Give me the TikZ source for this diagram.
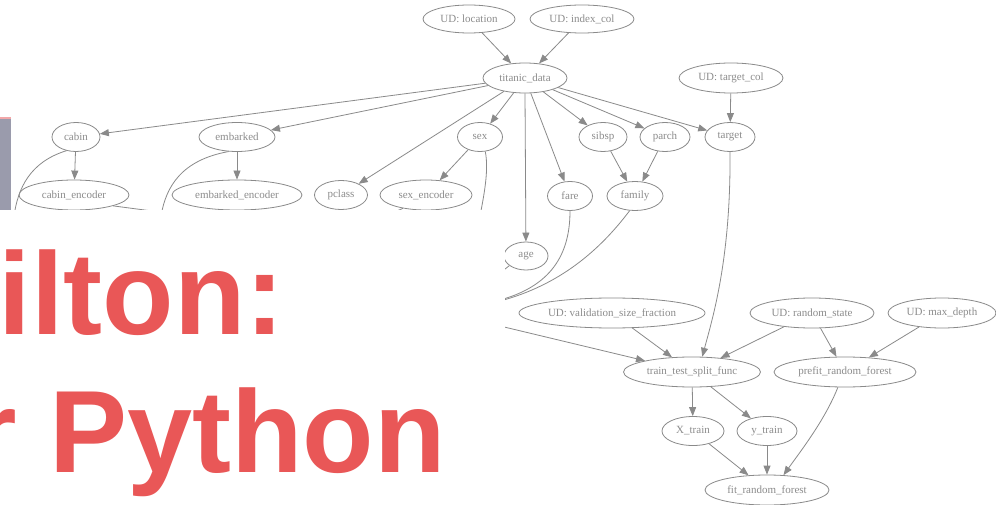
\documentclass[tikz,border=0pt]{standalone}
\usepackage{fontspec}
\setmainfont{Liberation Serif}
\newfontfamily\titlefont{Liberation Sans}
\usetikzlibrary{shapes.geometric,arrows.meta}
\definecolor{dag}{HTML}{8A8A8A}
\definecolor{dagtext}{HTML}{8C8C8C}
\definecolor{titlered}{HTML}{E95757}
\definecolor{slate}{HTML}{9A9BAC}
\definecolor{pinkline}{HTML}{F2A7A9}
\tikzset{
  nd/.style={ellipse, draw=dag, line width=0.8pt, inner sep=0pt, font=\fontsize{11}{13}\selectfont, text=dagtext},
  edge/.style={draw=dag, line width=0.8pt, -{Triangle[length=9pt,width=7pt]}},
  bare/.style={draw=dag, line width=0.8pt},
  title/.style={anchor=base west, inner sep=0pt, text=titlered, font=\titlefont\bfseries\fontsize{117}{117}\selectfont},
}
\begin{document}
\begin{tikzpicture}[x=1pt,y=-1pt]
\useasboundingbox (0,0) rectangle (996,505);
\fill[white] (0,0) rectangle (996,505);
% nodes
\node[nd, minimum width=92pt, minimum height=28pt] (loc) at (469,19) {UD: location};
\node[nd, minimum width=104pt, minimum height=28pt] (idx) at (582,19) {UD: index\_col};
\node[nd, minimum width=84pt, minimum height=30pt] (titanic) at (525,78) {titanic\_data};
\node[nd, minimum width=104pt, minimum height=30pt] (tcol) at (731,78) {UD: target\_col};
\node[nd, minimum width=48pt, minimum height=29pt] (cabin) at (76,137) {cabin};
\node[nd, minimum width=76pt, minimum height=29pt] (embarked) at (237,137) {embarked};
\node[nd, minimum width=45pt, minimum height=29pt] (sex) at (480,137) {sex};
\node[nd, minimum width=48pt, minimum height=29pt] (sibsp) at (603,137) {sibsp};
\node[nd, minimum width=50pt, minimum height=29pt] (parch) at (665,137) {parch};
\node[nd, minimum width=50pt, minimum height=29pt] (target) at (730,137) {target};
\node[nd, minimum width=110pt, minimum height=30pt] (cabinenc) at (74,195) {cabin\_encoder};
\node[nd, minimum width=130pt, minimum height=30pt] (embenc) at (237,195) {embarked\_encoder};
\node[nd, minimum width=53pt, minimum height=29pt] (pclass) at (341,195) {pclass};
\node[nd, minimum width=92pt, minimum height=30pt] (sexenc) at (426,195) {sex\_encoder};
\node[nd, minimum width=45pt, minimum height=29pt] (fare) at (570,196) {fare};
\node[nd, minimum width=56pt, minimum height=29pt] (family) at (635,196) {family};
\node[nd, minimum width=44pt, minimum height=28pt] (age) at (526,256) {age};
\node[nd, minimum width=186pt, minimum height=30pt] (val) at (612,313) {UD: validation\_size\_fraction};
\node[nd, minimum width=124pt, minimum height=30pt] (rs) at (812,313) {UD: random\_state};
\node[nd, minimum width=108pt, minimum height=30pt] (md) at (942,313) {UD: max\_depth};
\node[nd, minimum width=137pt, minimum height=30pt] (tts) at (692,372) {train\_test\_split\_func};
\node[nd, minimum width=142pt, minimum height=30pt] (prefit) at (845,372) {prefit\_random\_forest};
\node[nd, minimum width=62pt, minimum height=29pt] (xtr) at (693,431) {X\_train};
\node[nd, minimum width=60pt, minimum height=29pt] (ytr) at (767,431) {y\_train};
\node[nd, minimum width=124pt, minimum height=30pt] (fit) at (767,490) {fit\_random\_forest};
% free ends (hidden under the title area)
\coordinate (cabx) at (14,216);
\coordinate (embx) at (161,216);
\coordinate (sexx) at (480,216);
\coordinate (cabencx) at (175,214);
\coordinate (sexencx) at (390,214);
\coordinate (farex) at (500,300);
\coordinate (famx) at (500,301);
\coordinate (agex) at (500,273);
\coordinate (inL) at (500,326);
% edges
\draw[edge] (loc) -- (titanic);
\draw[edge] (idx) -- (titanic);
\draw[edge] (titanic) -- (cabin);
\draw[edge] (titanic) -- (embarked);
\draw[edge] (titanic) -- (pclass);
\draw[edge] (titanic) -- (sex);
\draw[edge] (titanic.south) -- (age);
\draw[edge] (titanic) -- (fare);
\draw[edge] (titanic) -- (sibsp);
\draw[edge] (titanic) -- (parch);
\draw[edge] (titanic) -- (target);
\draw[edge] (tcol) -- (target);
\draw[edge] (cabin) -- (cabinenc);
\draw[edge] (embarked) -- (embenc);
\draw[edge] (sex) -- (sexenc);
\draw[edge] (sibsp) -- (family);
\draw[edge] (parch) -- (family);
\draw[bare] (cabin.235) .. controls (30,162) and (18,188) .. (cabx);
\draw[bare] (embarked.240) .. controls (182,160) and (166,186) .. (embx);
\draw[bare] (sex.290) .. controls (489,170) and (484,195) .. (sexx);
\draw[bare] (cabinenc.south east) -- (cabencx);
\draw[bare] (sexenc.210) -- (sexencx);
\draw[bare] (fare.south) .. controls (570,250) and (555,285) .. (farex);
\draw[bare] (family.250) .. controls (600,250) and (560,285) .. (famx);
\draw[bare] (age.210) -- (agex);
\draw[edge] (inL) -- (tts);
\draw[edge] (val) -- (tts);
\draw[edge] (target.south) .. controls (731,260) and (712,320) .. (tts.56);
\draw[edge] (rs) -- (tts);
\draw[edge] (rs) -- (prefit);
\draw[edge] (md) -- (prefit);
\draw[edge] (tts) -- (xtr);
\draw[edge] (tts) -- (ytr);
\draw[edge] (xtr) -- (fit);
\draw[edge] (ytr) -- (fit);
\draw[edge] (prefit.245) .. controls (825,420) and (800,452) .. (fit.42);
% title overlay
\fill[white] (0,210) rectangle (505,505);
\fill[slate] (0,118) rectangle (11,210);
\fill[pinkline] (0,117) rectangle (11,119.5);
\node[title] (t1) at (-1.5,334) {ilton:};
\node[title] (t2) at (-29,472) {r Python};
\end{tikzpicture}
\end{document}
